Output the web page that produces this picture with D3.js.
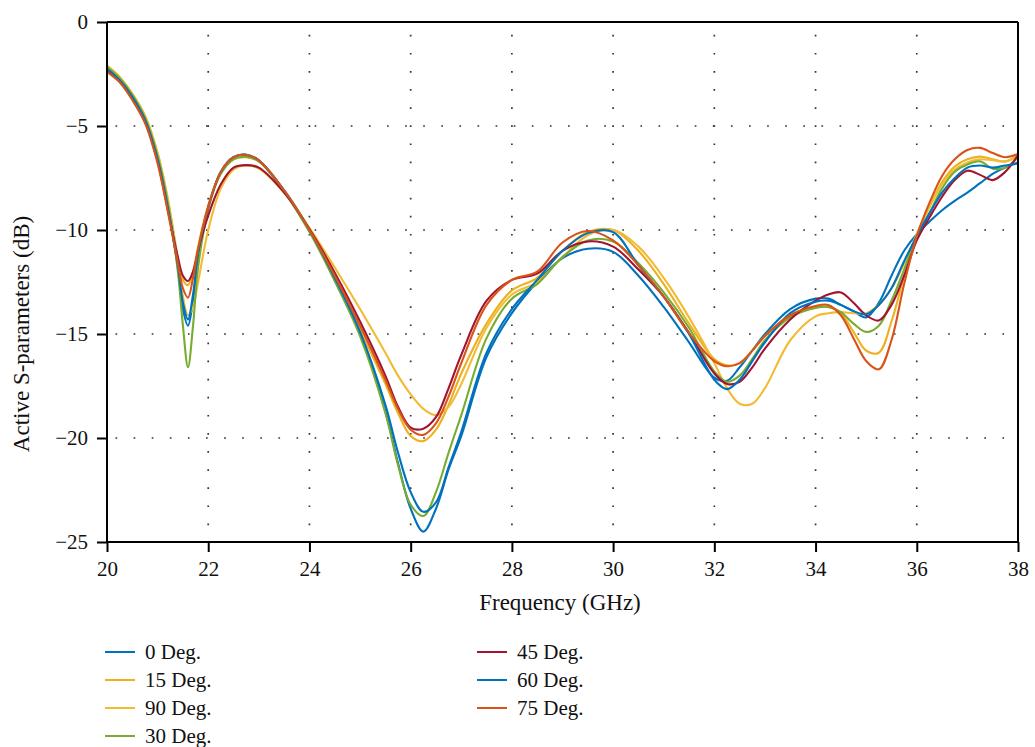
<!DOCTYPE html>
<html>
<head>
<meta charset="utf-8">
<script src="https://cdn.jsdelivr.net/npm/d3@7"></script>
<style>
  html, body { margin: 0; padding: 0; background: #fff; }
  svg { display: block; }
  text { font-family: "Liberation Serif", "DejaVu Serif", serif; fill: #111; }
</style>
</head>
<body>
<svg id="chart" width="1035" height="747"></svg>
<script>
// Frequency sample points (GHz)
const freq = [20, 20.25, 20.5, 20.75, 21, 21.2, 21.4, 21.5, 21.6, 21.7, 21.8, 22, 22.25, 22.5, 22.75, 23, 23.5, 24, 24.5, 25,
  25.5, 25.75, 26, 26.25, 26.5, 26.75, 27, 27.5, 28, 28.5, 29, 29.5, 30, 30.5, 31, 31.5, 32, 32.25, 32.5, 32.75,
  33, 33.5, 34, 34.25, 34.5, 34.75, 35, 35.25, 35.5, 35.75, 36, 36.25, 36.5, 36.75, 37, 37.25, 37.5, 37.75, 38];

// Active S-parameters (dB) per scan angle
const deg0 = [-2.25, -2.8, -3.6, -4.7, -6.6, -8.9, -11.8, -13.8, -14.6, -13.4, -11.3, -8.9, -7.2, -6.5, -6.38, -6.65, -8.1, -10.0, -12.4, -15.0,
  -18.7, -21.2, -23.4, -24.5, -23.4, -21.5, -19.9, -16.1, -14.0, -12.5, -11.35, -10.9, -11.05, -12.2, -13.7, -15.4, -17.1, -17.25, -16.6, -15.8,
  -15.0, -13.8, -13.3, -13.3, -13.6, -13.9, -14.2, -13.5, -12.2, -11.0, -10.2, -9.6, -9.05, -8.6, -8.2, -7.75, -7.3, -7.0, -6.75];
const deg15 = [-2.1, -2.65, -3.45, -4.5, -6.3, -8.5, -11.4, -12.4, -12.65, -12.0, -10.8, -8.8, -7.25, -6.6, -6.5, -6.7, -8.1, -10.0, -12.3, -14.8,
  -17.4, -18.8, -19.9, -20.15, -19.6, -18.4, -16.9, -14.5, -12.9, -12.3, -11.0, -10.1, -10.0, -11.0, -12.6, -14.5, -16.2, -16.5, -16.4, -15.8,
  -15.1, -14.1, -13.7, -13.7, -14.0, -14.9, -15.8, -15.9, -14.4, -12.2, -10.2, -8.9, -7.7, -6.95, -6.6, -6.47, -6.6, -6.7, -6.4];
const deg90 = [-2.1, -2.65, -3.45, -4.5, -6.3, -8.5, -11.4, -13.2, -14.1, -13.7, -12.5, -10.0, -8.0, -7.1, -6.9, -7.05, -8.2, -9.9, -11.8, -13.8,
  -15.9, -17.0, -17.9, -18.6, -18.9, -18.5, -17.4, -14.7, -13.1, -12.5, -11.3, -10.25, -10.0, -10.8, -12.3, -14.2, -16.4, -17.6, -18.35, -18.35,
  -17.6, -15.3, -14.15, -14.0, -13.95, -14.0, -14.0, -13.6, -12.8, -11.6, -10.2, -8.9, -7.8, -7.1, -6.75, -6.6, -6.65, -6.7, -6.45];
const deg30 = [-2.15, -2.7, -3.5, -4.6, -6.45, -8.7, -12.0, -14.6, -16.6, -14.6, -11.8, -9.0, -7.3, -6.6, -6.48, -6.7, -8.15, -10.1, -12.45, -15.1,
  -18.8, -21.3, -23.2, -23.75, -22.6, -20.7, -18.9, -15.2, -13.3, -12.6, -11.3, -10.5, -10.55, -11.6, -13.0, -14.7, -16.8, -17.3, -17.0, -16.2,
  -15.3, -14.2, -13.75, -13.7, -13.95, -14.5, -14.9, -14.6, -13.4, -11.9, -10.3, -9.2, -8.0, -7.2, -6.85, -6.7, -7.05, -7.0, -6.5];
const deg45 = [-2.3, -2.85, -3.7, -4.8, -6.7, -9.0, -11.3, -12.2, -12.45, -12.0, -11.0, -9.3, -7.8, -7.0, -6.88, -7.0, -8.2, -9.95, -12.05, -14.4,
  -17.0, -18.5, -19.5, -19.55, -19.0, -17.6, -16.0, -13.4, -12.4, -12.1, -11.0, -10.55, -10.8, -11.9, -13.2, -14.95, -16.9, -17.4, -17.3, -16.6,
  -15.7, -14.3, -13.4, -13.1, -13.0, -13.5, -14.1, -14.35, -13.6, -12.2, -10.5, -9.4, -8.4, -7.6, -7.15, -7.35, -7.6, -7.2, -6.4];
const deg60 = [-2.25, -2.8, -3.6, -4.7, -6.6, -8.9, -11.7, -13.5, -14.3, -13.1, -11.1, -8.9, -7.2, -6.5, -6.38, -6.65, -8.1, -10.0, -12.3, -14.9,
  -18.4, -20.7, -22.6, -23.55, -23.1, -21.4, -19.7, -15.9, -13.8, -12.4, -11.0, -10.15, -10.1, -11.7, -13.2, -15.0, -17.2, -17.65, -17.2, -16.3,
  -15.4, -14.0, -13.45, -13.4, -13.6, -13.9, -14.05, -13.6, -12.8, -11.5, -10.3, -9.2, -8.2, -7.5, -7.0, -6.9, -7.0, -6.9, -6.8];
const deg75 = [-2.4, -2.9, -3.75, -4.85, -6.8, -9.1, -11.6, -12.8, -13.25, -12.3, -10.9, -8.9, -7.2, -6.5, -6.38, -6.65, -8.1, -10.0, -12.2, -14.6,
  -17.2, -18.6, -19.6, -19.85, -19.3, -18.0, -16.4, -13.6, -12.4, -12.0, -10.6, -10.05, -10.5, -11.7, -13.2, -14.95, -16.3, -16.55, -16.4, -15.8,
  -15.1, -14.1, -13.65, -13.6, -14.1, -15.2, -16.3, -16.7, -15.3, -12.6, -10.3, -8.7, -7.4, -6.6, -6.15, -6.05, -6.3, -6.5, -6.35];

const seriesNames = ["0 Deg.", "15 Deg.", "90 Deg.", "30 Deg.", "45 Deg.", "60 Deg.", "75 Deg."];
const seriesValues = [deg0, deg15, deg90, deg30, deg45, deg60, deg75];
const seriesColors = ["#0072BD", "#EDB120", "#F2BB33", "#77AC30", "#A2142F", "#0072BD", "#D95319"];

const xTicks = [20, 22, 24, 26, 28, 30, 32, 34, 36, 38];
const yTicks = [0, -5, -10, -15, -20, -25];

const svg = d3.select("#chart");
const plot = { left: 107, right: 1018, top: 22, bottom: 542 };
const FS = 21;
const TITLE_FS = 23;

const x = d3.scaleLinear().domain([20, 38]).range([plot.left, plot.right]);
const y = d3.scaleLinear().domain([-25, 0]).range([plot.bottom, plot.top]);

// dotted grid at interior ticks
const grid = svg.append("g").attr("stroke", "#333").attr("stroke-width", 1.7)
  .attr("stroke-dasharray", "1.7,16.4").attr("fill", "none");
xTicks.slice(1, -1).forEach(t => {
  grid.append("line").attr("x1", x(t)).attr("x2", x(t))
    .attr("y1", plot.bottom).attr("y2", plot.top).attr("stroke-dashoffset", 1.3);
});
yTicks.slice(1, -1).forEach(t => {
  grid.append("line").attr("x1", plot.left).attr("x2", plot.right)
    .attr("y1", y(t)).attr("y2", y(t)).attr("stroke-dashoffset", 9.6);
});

// curves
const line = d3.line()
  .x((d, i) => x(freq[i]))
  .y(d => y(d))
  .curve(d3.curveCatmullRom.alpha(0.5));

const curves = svg.append("g").attr("fill", "none").attr("stroke-width", 2.1)
  .attr("stroke-linejoin", "round").attr("stroke-linecap", "round");
seriesValues.forEach((vals, k) => {
  curves.append("path").attr("d", line(vals)).attr("stroke", seriesColors[k]);
});

// frame
svg.append("line").attr("x1", plot.left).attr("x2", plot.right).attr("y1", plot.top).attr("y2", plot.top)
  .attr("stroke", "#000").attr("stroke-width", 2);
svg.append("line").attr("x1", plot.right).attr("x2", plot.right).attr("y1", plot.top).attr("y2", plot.bottom)
  .attr("stroke", "#000").attr("stroke-width", 2);

// axes
const xAxis = svg.append("g").attr("transform", `translate(0,${plot.bottom})`)
  .call(d3.axisBottom(x).tickValues(xTicks).tickSize(10).tickPadding(9).tickFormat(d3.format("d")));
const yAxis = svg.append("g").attr("transform", `translate(${plot.left},0)`)
  .call(d3.axisLeft(y).tickValues(yTicks).tickSize(10).tickPadding(9).tickFormat(d => d === 0 ? "0" : "\u2212" + Math.abs(d)));
[xAxis, yAxis].forEach(a => {
  a.select(".domain").attr("stroke", "#000").attr("stroke-width", 2);
  a.selectAll(".tick line").attr("stroke", "#000").attr("stroke-width", 2);
  a.selectAll(".tick text").attr("font-family", "Liberation Serif, serif").attr("font-size", FS).attr("fill", "#111");
});
xAxis.select(".domain").attr("d", `M${plot.left},0H${plot.right}`);
yAxis.select(".domain").attr("d", `M0,${plot.top}V${plot.bottom}`);

// axis titles
svg.append("text").attr("x", 560).attr("y", 610).attr("text-anchor", "middle")
  .attr("font-size", TITLE_FS).text("Frequency (GHz)");
svg.append("text").attr("transform", "translate(29,334) rotate(-90)").attr("text-anchor", "middle")
  .attr("font-size", TITLE_FS).text("Active S-parameters (dB)");

// legend: two columns
const legendPos = [
  [105, 652], [105, 680], [105, 708], [105, 736],
  [477, 652], [477, 680], [477, 708]
];
const legend = svg.append("g");
seriesNames.forEach((name, k) => {
  const [lx, ly] = legendPos[k];
  legend.append("line").attr("x1", lx).attr("x2", lx + 30).attr("y1", ly).attr("y2", ly)
    .attr("stroke", seriesColors[k]).attr("stroke-width", 2);
  legend.append("text").attr("x", lx + 40).attr("y", ly + 7).attr("font-size", FS).text(name);
});
</script>
</body>
</html>
